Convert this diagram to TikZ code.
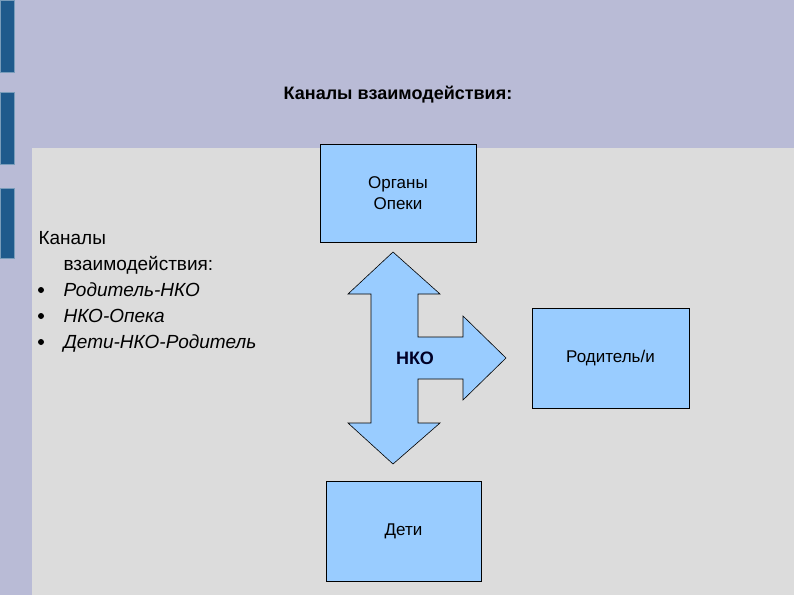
\documentclass[tikz,border=0pt]{standalone}
\usepackage{fontspec}
\setmainfont{Liberation Sans}
\begin{document}
\begin{tikzpicture}[x=1pt,y=-1pt,
  box/.style={draw=black,fill=boxblue,line width=0.8pt},
  bar/.style={fill=barblue,draw=barblue!60!white,line width=0.6pt},
  txt/.style={font=\fontsize{19}{23}\selectfont,anchor=base west}]
\definecolor{lav}{HTML}{B9BBD6}
\definecolor{bgray}{HTML}{DCDCDC}
\definecolor{barblue}{HTML}{1F5A8C}
\definecolor{boxblue}{HTML}{99CCFF}
\fill[lav] (0,0) rectangle (794,595);
\useasboundingbox (0,0) rectangle (794,595);
\fill[bgray] (32,148) rectangle (794,595);
\draw[bar] (0,0) rectangle (14,72);
\draw[bar] (0,92) rectangle (14,164);
\draw[bar] (0,188) rectangle (14,258);
\node[font=\fontsize{18}{22}\selectfont\bfseries] (title) at (398,95) {Каналы взаимодействия:};
\node[box,minimum width=156,minimum height=98,align=center,font=\fontsize{17}{21}\selectfont] (org) at (398,193) {Органы\\Опеки};
\node[box,minimum width=157,minimum height=100,font=\fontsize{17}{21}\selectfont] (par) at (610.5,358) {Родитель/и};
\node[box,minimum width=155,minimum height=100,font=\fontsize{17}{21}\selectfont] (kids) at (403.5,531) {Дети};
\draw[fill=boxblue,line width=0.6pt] (393,252) -- (440,294) -- (418,294) -- (418,337) -- (463,337) -- (463,316) -- (506,358) -- (463,400) -- (463,379) -- (418,379) -- (418,423) -- (440,423) -- (393,464) -- (348,423) -- (371,423) -- (371,294) -- (348,294) -- cycle;
\node[font=\fontsize{18}{22}\selectfont\bfseries,text=black!85!blue] (nko) at (415,358) {НКО};
\node[txt] (l1) at (35,244) {Каналы};
\node[txt] (l2) at (60,270) {взаимодействия:};
\node[txt,font=\fontsize{19}{23}\selectfont\itshape] (l3) at (60,296) {Родитель-НКО};
\node[txt,font=\fontsize{19}{23}\selectfont\itshape] (l4) at (60,322) {НКО-Опека};
\node[txt,font=\fontsize{19}{23}\selectfont\itshape] (l5) at (60,348) {Дети-НКО-Родитель};
\foreach \y [count=\i] in {290,316,342} \fill (41,\y) circle (3);
\end{tikzpicture}
\end{document}
